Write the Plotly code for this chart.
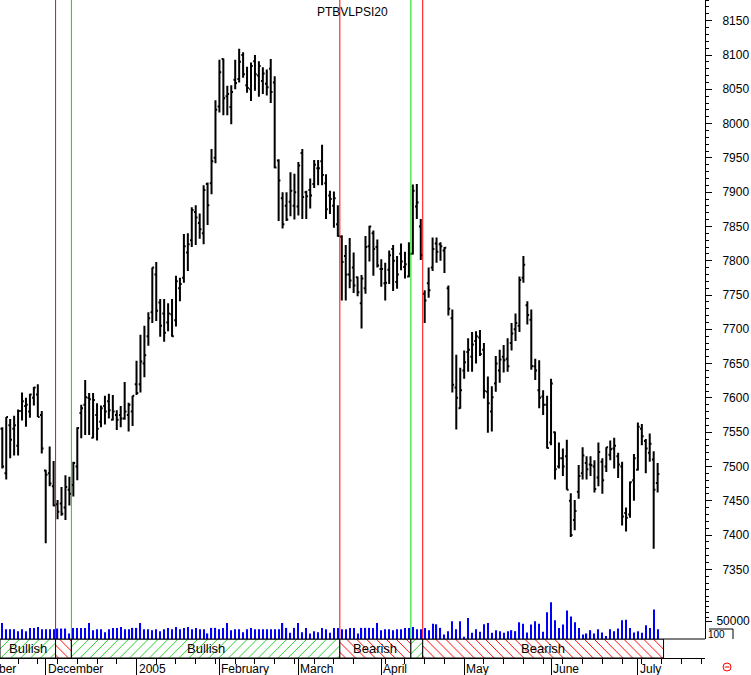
import pandas as pd
import plotly.graph_objects as go

symbol = "PTBVLPSI20"

opens = [7555, 7490, 7560, 7555, 7530, 7581, 7588, 7580, 7600, 7605, 7575, 7494, 7490, 7471, 7445, 7446, 7440, 7466, 7473, 7500,
         7578, 7590, 7600, 7542, 7575, 7565, 7588, 7595, 7568, 7575, 7575, 7570, 7575, 7580, 7620, 7620, 7650, 7690, 7725, 7780,
         7739, 7723, 7710, 7722, 7713, 7760, 7775, 7812, 7830, 7871, 7855, 7840, 7912, 7913, 7950, 8025, 8094, 8040, 8024, 8064,
         8065, 8100, 8056, 8050, 8091, 8070, 8062, 8058, 8080, 8060, 7946, 7891, 7880, 7886, 7880, 7879, 7957, 7900, 7903, 7912,
         7935, 7945, 7913, 7895, 7880, 7853, 7835, 7807, 7780, 7790, 7776, 7738, 7760, 7821, 7840, 7820, 7788, 7767, 7787, 7817,
         7769, 7810, 7791, 7777, 7810, 7879, 7850, 7752, 7767, 7790, 7825, 7824, 7815, 7760, 7716, 7615, 7585, 7640, 7667, 7660,
         7683, 7688, 7670, 7609, 7580, 7621, 7640, 7660, 7657, 7680, 7700, 7705, 7775, 7735, 7714, 7646, 7611, 7602, 7590, 7535,
         7550, 7500, 7512, 7515, 7450, 7422, 7463, 7490, 7505, 7503, 7500, 7484, 7507, 7500, 7517, 7526, 7515, 7500, 7432, 7430,
         7480, 7495, 7555, 7537, 7520, 7510, 7476]
highs = [7557, 7572, 7569, 7574, 7583, 7608, 7600, 7606, 7616, 7620, 7581, 7495, 7529, 7508, 7451, 7470, 7487, 7485, 7507, 7557,
         7590, 7626, 7607, 7607, 7592, 7589, 7603, 7606, 7604, 7582, 7588, 7623, 7593, 7603, 7654, 7692, 7705, 7725, 7790, 7798,
         7744, 7744, 7738, 7744, 7778, 7775, 7839, 7840, 7878, 7881, 7869, 7910, 7914, 7963, 8034, 8093, 8095, 8055, 8056, 8093,
         8109, 8104, 8083, 8089, 8100, 8091, 8082, 8079, 8094, 8069, 7948, 7900, 7900, 7929, 7927, 7944, 7963, 7902, 7920, 7947,
         7947, 7969, 7926, 7902, 7901, 7881, 7837, 7823, 7833, 7812, 7777, 7779, 7836, 7851, 7844, 7831, 7802, 7797, 7815, 7823,
         7807, 7825, 7813, 7827, 7911, 7912, 7861, 7757, 7790, 7834, 7834, 7827, 7820, 7764, 7729, 7663, 7644, 7669, 7687, 7696,
         7697, 7699, 7680, 7631, 7617, 7661, 7670, 7677, 7687, 7709, 7723, 7777, 7807, 7741, 7729, 7657, 7655, 7611, 7603, 7628,
         7551, 7535, 7526, 7539, 7461, 7451, 7502, 7528, 7515, 7515, 7509, 7535, 7512, 7528, 7538, 7542, 7520, 7507, 7440, 7478,
         7518, 7564, 7562, 7540, 7548, 7522, 7505]
lows = [7497, 7481, 7512, 7516, 7516, 7567, 7558, 7571, 7589, 7572, 7519, 7388, 7471, 7442, 7423, 7428, 7422, 7443, 7456, 7480,
        7541, 7546, 7546, 7541, 7538, 7557, 7561, 7570, 7567, 7553, 7557, 7568, 7551, 7559, 7604, 7608, 7630, 7676, 7709, 7712,
        7689, 7682, 7697, 7689, 7704, 7741, 7768, 7785, 7820, 7823, 7832, 7824, 7852, 7897, 7942, 8016, 8012, 8012, 7999, 8050,
        8060, 8067, 8045, 8033, 8048, 8039, 8043, 8041, 8030, 7935, 7858, 7847, 7858, 7865, 7860, 7866, 7861, 7861, 7876, 7906,
        7910, 7910, 7861, 7868, 7848, 7835, 7742, 7742, 7760, 7753, 7748, 7701, 7752, 7799, 7778, 7790, 7762, 7742, 7766, 7756,
        7759, 7786, 7774, 7776, 7809, 7861, 7801, 7709, 7746, 7785, 7797, 7800, 7782, 7720, 7608, 7554, 7584, 7628, 7638, 7638,
        7650, 7661, 7599, 7549, 7551, 7609, 7622, 7637, 7638, 7669, 7683, 7696, 7768, 7707, 7641, 7626, 7585, 7575, 7526, 7531,
        7481, 7497, 7486, 7466, 7397, 7407, 7453, 7481, 7481, 7486, 7462, 7471, 7460, 7492, 7509, 7497, 7483, 7414, 7405, 7425,
        7450, 7494, 7531, 7490, 7507, 7380, 7462]
closes = [7500, 7572, 7539, 7560, 7581, 7595, 7590, 7605, 7615, 7572, 7526, 7488, 7475, 7443, 7434, 7431, 7470, 7460, 7505, 7556,
          7585, 7601, 7598, 7597, 7555, 7585, 7580, 7582, 7580, 7568, 7570, 7580, 7590, 7603, 7607, 7653, 7662, 7716, 7790, 7727,
          7705, 7695, 7723, 7690, 7770, 7766, 7821, 7824, 7874, 7863, 7846, 7903, 7881, 7945, 8020, 8075, 8037, 8043, 8046, 8059,
          8090, 8072, 8052, 8084, 8072, 8084, 8073, 8053, 8046, 7936, 7917, 7853, 7860, 7902, 7900, 7939, 7893, 7894, 7895, 7940,
          7935, 7925, 7875, 7890, 7891, 7836, 7798, 7780, 7771, 7764, 7754, 7774, 7820, 7850, 7817, 7793, 7788, 7768, 7808, 7800,
          7780, 7799, 7795, 7810, 7902, 7885, 7808, 7742, 7757, 7817, 7813, 7821, 7819, 7730, 7619, 7600, 7611, 7652, 7670, 7678,
          7690, 7664, 7610, 7592, 7601, 7650, 7656, 7655, 7646, 7694, 7709, 7772, 7794, 7721, 7646, 7640, 7600, 7590, 7527, 7621,
          7496, 7512, 7500, 7466, 7400, 7435, 7486, 7516, 7496, 7502, 7467, 7521, 7480, 7528, 7525, 7530, 7503, 7427, 7425, 7477,
          7512, 7558, 7544, 7526, 7533, 7466, 7489]
volumes = [44500, 27300, 27300, 27300, 21800, 27300, 21800, 30900, 30900, 33600, 27300, 27300, 27300, 27300, 29100, 29100,
           29100, 15500, 30900, 30900, 30900, 30900, 44500, 24500, 27300, 27300, 19100, 27300, 30900, 30900, 33600, 27300,
           27300, 30900, 30900, 44500, 27300, 27300, 24500, 27300, 21800, 27300, 30900, 27300, 33600, 27300, 30900, 33600,
           27300, 30900, 27300, 27300, 15500, 30900, 30900, 27300, 30900, 44500, 24500, 27300, 27300, 19100, 27300, 30900,
           27300, 27300, 27300, 27300, 27300, 27300, 27300, 44500, 30900, 17300, 30900, 44500, 19100, 30900, 15500, 21800,
           19100, 30900, 27300, 17300, 30900, 30900, 27300, 27300, 30900, 30900, 15500, 30900, 30900, 30900, 30900, 44500,
           24500, 27300, 27300, 24500, 27300, 27300, 30900, 30900, 33600, 27300, 27300, 30900, 24500, 42700, 40900, 30900,
           12700, 21800, 49100, 27300, 49100, 6400, 58200, 17300, 27300, 20000, 40900, 44500, 17300, 24500, 21800, 17300,
           21800, 24500, 21800, 46400, 42700, 18200, 40000, 49100, 42700, 20000, 74500, 101800, 51800, 30900, 40000, 79100,
           62700, 46400, 30900, 12700, 15500, 24500, 15500, 27300, 18200, 8200, 27300, 21800, 29100, 51800, 53600, 30900,
           18200, 21800, 17300, 38200, 30900, 81800, 27300]

holidays = ["2005-03-25", "2005-03-28"]
first_day = "2004-11-16"
signal_dates = ["2004-12-06", "2004-12-10", "2005-03-16", "2005-04-13", "2005-04-18"]
signal_kind = ["sell", "buy", "sell", "buy", "sell"]
start_state = "Bullish"

n = len(closes)
cal = [d for d in pd.bdate_range("2004-11-01", "2005-07-29") if d.strftime("%Y-%m-%d") not in holidays]
cal_s = [d.strftime("%Y-%m-%d") for d in cal]
offset = cal_s.index(first_day)
pos = {s: i - offset for i, s in enumerate(cal_s)}
dates = cal_s[offset:offset + n]
x = list(range(n))

xr = [-0.58, 178.0]
H = 658.0
W = 705.0
price_dom = [61 / H, 1.0]
vol_dom = [19 / H, 61 / H]
band_dom = [0.0, 19 / H]

RED = "#ff0000"
GREEN = "#00dd00"
FONT = "Liberation Sans, Arial, sans-serif"

fig = go.Figure()

fig.add_trace(go.Ohlc(
    x=x, open=opens, high=highs, low=lows, close=closes,
    increasing=dict(line=dict(color="black", width=2)),
    decreasing=dict(line=dict(color="black", width=2)),
    tickwidth=0.45, xaxis="x", yaxis="y", hovertext=dates, showlegend=False,
))

fig.add_trace(go.Bar(
    x=x, y=volumes, width=0.3, marker=dict(color="#0000ff", line=dict(width=0)),
    xaxis="x", yaxis="y2", showlegend=False,
))

# trend band segments
edges = [xr[0]] + [pos[d] - 0.5 for d in signal_dates] + [n + 0.5]
states = [start_state]
for k in signal_kind:
    states.append("Bullish" if k == "buy" else "Bearish")
centers = [(a + b) / 2 for a, b in zip(edges[:-1], edges[1:])]
widths = [b - a for a, b in zip(edges[:-1], edges[1:])]
fig.add_trace(go.Bar(
    x=centers, y=[1] * len(centers), width=widths,
    marker=dict(
        color="white",
        line=dict(color="black", width=1),
        pattern=dict(
            shape=["/" if s == "Bullish" else "\\" for s in states],
            fgcolor=["#22cc22" if s == "Bullish" else RED for s in states],
            bgcolor="white", size=7, solidity=0.14, fillmode="replace",
        ),
    ),
    xaxis="x", yaxis="y3", showlegend=False, hoverinfo="skip",
))

shapes = []
for d, k in zip(signal_dates, signal_kind):
    shapes.append(dict(type="line", xref="x", yref="paper", x0=pos[d] - 0.5, x1=pos[d] - 0.5,
                       y0=band_dom[1], y1=1, line=dict(color=RED if k == "sell" else GREEN, width=1)))
shapes.append(dict(type="line", xref="paper", yref="paper", x0=0, x1=1, y0=band_dom[1], y1=band_dom[1],
                   line=dict(color="black", width=1)))
# right-side small box and marker
shapes.append(dict(type="path", xref="paper", yref="paper",
                   path=f"M {709/W},{(H-629)/H} L {733/W},{(H-629)/H} L {733/W},{(H-639)/H}",
                   line=dict(color="black", width=1)))
shapes.append(dict(type="circle", xref="paper", yref="paper", x0=723 / W, x1=731 / W,
                   y0=(H - 671) / H, y1=(H - 663) / H, line=dict(color=RED, width=1)))
shapes.append(dict(type="line", xref="paper", yref="paper", x0=724.5 / W, x1=729.5 / W,
                   y0=(H - 667) / H, y1=(H - 667) / H, line=dict(color=RED, width=1)))

annotations = []
for c, w, s in zip(centers, widths, states):
    if w > 10:
        annotations.append(dict(x=c, xref="x", y=0.5 * band_dom[1], yref="paper", text=s, showarrow=False,
                                font=dict(family=FONT, size=13, color="black"), xanchor="center", yanchor="middle"))

month_pos = []
month_lab = []
prev = None
for s in cal_s:
    m = s[:7]
    if m != prev:
        prev = m
        ts = pd.Timestamp(s)
        month_pos.append(pos[s])
        month_lab.append(str(ts.year) if ts.month == 1 else ts.strftime("%B"))
mondays = [pos[s] for s in cal_s if pd.Timestamp(s).weekday() == 0]

for p, lab in zip(month_pos, month_lab):
    annotations.append(dict(x=(p - xr[0]) / (xr[1] - xr[0]), xref="paper", y=-11 / H, yref="paper",
                            text=lab, showarrow=False, xanchor="left", yanchor="middle", xshift=0,
                            font=dict(family=FONT, size=12, color="black")))
annotations.append(dict(x=0.5, xref="paper", y=1, yref="paper", yanchor="top", yshift=-3, text=symbol,
                        showarrow=False, font=dict(family=FONT, size=12, color="black")))
annotations.append(dict(x=706 / W, xref="paper", y=(H - 634) / H, yref="paper", xanchor="left",
                        yanchor="middle", text="100", showarrow=False,
                        font=dict(family=FONT, size=10, color="black")))

price_lo = 7309.6
price_hi = 8180.2
fig.update_layout(
    width=751, height=675,
    margin=dict(l=0, r=46, t=0, b=17, autoexpand=False),
    paper_bgcolor="white", plot_bgcolor="white",
    barmode="overlay", showlegend=False,
    font=dict(family=FONT, size=12, color="black"),
    xaxis=dict(
        range=xr, anchor="y3", showline=True, linecolor="black", linewidth=1, automargin=False,
        showgrid=False, zeroline=False, rangeslider=dict(visible=False),
        tickmode="array", tickvals=[p for p in month_pos if xr[0] <= p <= xr[1]],
        ticks="outside", ticklen=17, tickcolor="black", tickwidth=1, showticklabels=False,
        minor=dict(tickmode="array", tickvals=[p for p in mondays if xr[0] <= p <= xr[1]],
                   ticks="outside", ticklen=5, tickcolor="black", tickwidth=1, showgrid=False),
    ),
    yaxis=dict(
        domain=price_dom, range=[price_lo, price_hi], side="right", anchor="x", automargin=False,
        showline=True, linecolor="black", linewidth=1, showgrid=False, zeroline=False,
        tickmode="linear", tick0=7350, dtick=50, ticks="outside", ticklen=6, tickcolor="black",
        ticklabelstandoff=8, tickfont=dict(family=FONT, size=12, color="black"),
        minor=dict(dtick=10, tick0=7350, ticks="outside", ticklen=3, tickcolor="black", showgrid=False),
    ),
    yaxis2=dict(
        domain=vol_dom, range=[0, 116700], side="right", anchor="x", automargin=False,
        showline=True, linecolor="black", linewidth=1, showgrid=False, zeroline=False,
        tickmode="array", tickvals=[50000], ticktext=["50000"], ticks="outside", ticklen=6,
        tickcolor="black", ticklabelstandoff=2, tickfont=dict(family=FONT, size=12, color="black"),
        minor=dict(tickmode="array", tickvals=[60000, 75000, 90000, 105000], ticks="outside", ticklen=3,
                   tickcolor="black", showgrid=False),
    ),
    yaxis3=dict(domain=band_dom, range=[0, 1], visible=False, fixedrange=True),
    shapes=shapes, annotations=annotations,
)

fig.write_html(
    "out.html",
    config={"displayModeBar": False},
    post_script="document.body.style.margin='0';document.body.style.padding='0';"
                "document.body.style.overflow='hidden';",
)
